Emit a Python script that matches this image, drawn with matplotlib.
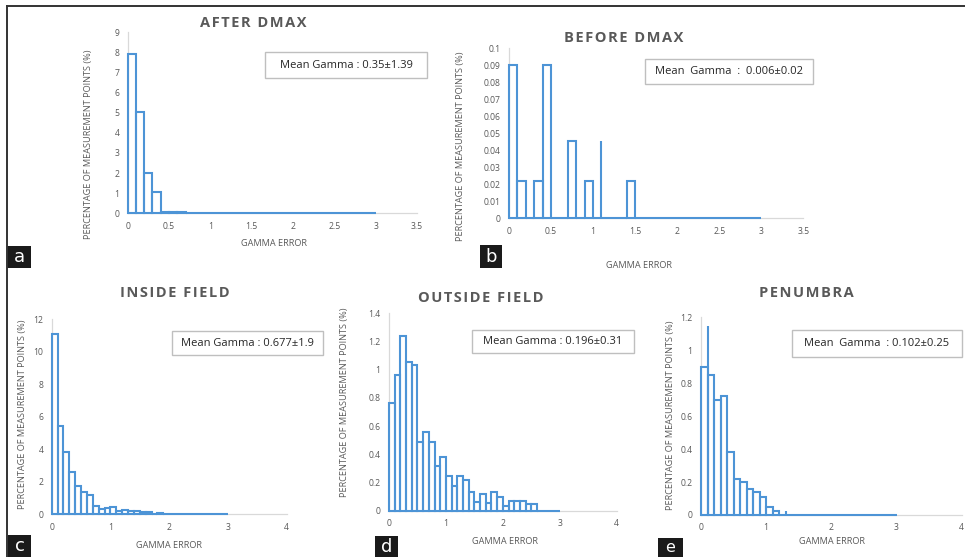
import matplotlib
matplotlib.use("Agg")
import matplotlib.pyplot as plt
from matplotlib.patches import Rectangle
from matplotlib.lines import Line2D
from matplotlib.ticker import FuncFormatter, MultipleLocator

plt.rcParams['font.family'] = ['Open Sans', 'DejaVu Sans']

W, H = 965, 557
BLUE = '#4d94d6'
GRAY_TXT = '#595959'
AXIS_GRAY = '#d9d9d9'

BIN_WIDTH = 0.1

# ---------------- data (bin heights, bins of width 0.1 starting at 0) ----------------
after_heights = [7.93, 5.02, 2.02, 1.08, 0.07, 0.07, 0.07, 0, 0, 0,
                 0, 0, 0, 0, 0, 0, 0, 0, 0, 0,
                 0, 0, 0, 0, 0, 0, 0, 0, 0, 0]
after_spikes_x = []
after_spikes_y = []

before_heights = [0.09, 0.022, 0, 0.022, 0.09, 0, 0, 0.0455, 0, 0.022,
                  0, 0, 0, 0, 0.022, 0, 0, 0, 0, 0,
                  0, 0, 0, 0, 0, 0, 0, 0, 0, 0]
before_spikes_x = [1.1]
before_spikes_y = [0.0455]

inside_heights = [11.1, 5.45, 3.8, 2.6, 1.75, 1.38, 1.18, 0.53, 0.31, 0.38,
                  0.43, 0.22, 0.27, 0.2, 0.2, 0.14, 0.14, 0, 0.06, 0,
                  0, 0, 0, 0, 0, 0, 0, 0, 0, 0]
inside_spikes_x = []
inside_spikes_y = []

outside_heights = [0.765, 0.963, 1.24, 1.058, 1.034, 0.49, 0.56, 0.49, 0.315, 0.38,
                   0.245, 0.178, 0.245, 0.215, 0.134, 0.06, 0.12, 0.055, 0.134, 0.1,
                   0.033, 0.067, 0.067, 0.067, 0.048, 0.048, 0, 0, 0, 0]
outside_spikes_x = []
outside_spikes_y = []

penumbra_heights = [0.897, 0.85, 0.70, 0.72, 0.38, 0.22, 0.20, 0.156, 0.138, 0.11,
                    0.047, 0.024, 0, 0, 0, 0, 0, 0, 0, 0,
                    0, 0, 0, 0, 0, 0, 0, 0, 0, 0]
penumbra_spikes_x = [0.1, 1.3]
penumbra_spikes_y = [1.148, 0.024]

titles = ['AFTER DMAX', 'BEFORE DMAX', 'INSIDE FIELD', 'OUTSIDE FIELD', 'PENUMBRA']
mean_texts = ['Mean Gamma : 0.35\u00b11.39', 'Mean  Gamma  :  0.006\u00b10.02',
              'Mean Gamma : 0.677\u00b11.9', 'Mean Gamma : 0.196\u00b10.31',
              'Mean  Gamma  : 0.102\u00b10.25']
panel_letters = ['a', 'b', 'c', 'd', 'e']
x_label = 'GAMMA ERROR'
y_label = 'PERCENTAGE OF MEASUREMENT POINTS (%)'

# ---------------- layout (pixel positions) ----------------
panels = [
    dict(h=after_heights, sx=after_spikes_x, sy=after_spikes_y,
         ax=(127.7, 417.0, 32.3, 213.3), xlim=3.5, xstep=0.5, ylim=9, ystep=1,
         title=(253, 23), box=(265, 52, 427, 78), ylab=(89, 144), xlab=(274, 243),
         letter=(7, 246, 31, 268)),
    dict(h=before_heights, sx=before_spikes_x, sy=before_spikes_y,
         ax=(509.0, 803.3, 48.3, 218.3), xlim=3.5, xstep=0.5, ylim=0.1, ystep=0.01,
         title=(624, 38), box=(645, 59, 813, 84), ylab=(460, 146), xlab=(639, 266),
         letter=(480, 245, 502, 268)),
    dict(h=inside_heights, sx=inside_spikes_x, sy=inside_spikes_y,
         ax=(51.7, 286.7, 319.0, 514.3), xlim=4, xstep=1, ylim=12, ystep=2,
         title=(175, 293), box=(172, 331, 323, 355), ylab=(23, 414), xlab=(169, 545),
         letter=(8, 535, 31, 557)),
    dict(h=outside_heights, sx=outside_spikes_x, sy=outside_spikes_y,
         ax=(389.0, 616.7, 313.3, 510.7), xlim=4, xstep=1, ylim=1.4, ystep=0.2,
         title=(481, 298), box=(472, 330, 634, 353), ylab=(345, 402), xlab=(505, 541),
         letter=(375, 536, 398, 557)),
    dict(h=penumbra_heights, sx=penumbra_spikes_x, sy=penumbra_spikes_y,
         ax=(701.0, 961.7, 317.3, 515.0), xlim=4, xstep=1, ylim=1.2, ystep=0.2,
         title=(806, 293), box=(792, 330, 962, 357), ylab=(670, 415), xlab=(832, 541),
         letter=(658, 538, 683, 557)),
]

fig = plt.figure(figsize=(W / 100, H / 100), dpi=100)


def fx(x):
    return x / W


def fy(y):
    return 1 - y / H


fmt = FuncFormatter(lambda v, p: ('%g' % round(v, 6)))


def spaced(s):
    return '\u200a'.join(list(s))


for i, p in enumerate(panels):
    l, r, t, b = p['ax']
    ax = fig.add_axes([fx(l), fy(b), (r - l) / W, (b - t) / H])
    n = len(p['h'])
    lefts = [k * BIN_WIDTH for k in range(n)]
    ax.bar(lefts, p['h'], width=BIN_WIDTH, align='edge', fill=False,
           edgecolor=BLUE, linewidth=1.5, clip_on=False, zorder=3)
    if p['sx']:
        ax.vlines(p['sx'], 0, p['sy'], color=BLUE, linewidth=1.5, zorder=3)
    ax.set_xlim(0, p['xlim'])
    ax.set_ylim(0, p['ylim'])
    ax.xaxis.set_major_locator(MultipleLocator(p['xstep']))
    ax.yaxis.set_major_locator(MultipleLocator(p['ystep']))
    ax.xaxis.set_major_formatter(fmt)
    ax.yaxis.set_major_formatter(fmt)
    ax.tick_params(length=0, labelsize=6.2, labelcolor=GRAY_TXT, pad=6)
    for s in ['top', 'right']:
        ax.spines[s].set_visible(False)
    for s in ['left', 'bottom']:
        ax.spines[s].set_color(AXIS_GRAY)
        ax.spines[s].set_linewidth(0.9)
    ax.patch.set_alpha(0)

    # title
    tx, ty = p['title']
    fig.text(fx(tx), fy(ty), spaced(titles[i]), ha='center', va='center', fontsize=10.5,
             fontweight='bold', color=GRAY_TXT)
    # mean gamma box
    bx0, by0, bx1, by1 = p['box']
    fig.patches.append(Rectangle((fx(bx0), fy(by1)), (bx1 - bx0) / W, (by1 - by0) / H,
                                 transform=fig.transFigure, fill=False,
                                 edgecolor='#bfbfbf', linewidth=1.0))
    fig.text(fx((bx0 + bx1) / 2), fy((by0 + by1) / 2), mean_texts[i], ha='center',
             va='center', fontsize=8.0, color='#262626')
    # axis labels
    yx, yy = p['ylab']
    fig.text(fx(yx), fy(yy), y_label, rotation=90, ha='center', va='center',
             fontsize=6.6, color=GRAY_TXT)
    xx, xy = p['xlab']
    fig.text(fx(xx), fy(xy), x_label, ha='center', va='center', fontsize=6.6,
             color=GRAY_TXT)
    # letter box
    lx0, ly0, lx1, ly1 = p['letter']
    fig.patches.append(Rectangle((fx(lx0), fy(ly1)), (lx1 - lx0) / W, (ly1 - ly0) / H,
                                 transform=fig.transFigure, facecolor='#1a1a1a',
                                 edgecolor='none'))
    fig.text(fx((lx0 + lx1) / 2), fy((ly0 + ly1) / 2), panel_letters[i], ha='center',
             va='center', fontsize=13 if i != 4 else 11.5, color='white',
             family=['DejaVu Sans'])

# outer frame (top and left)
fig.lines.append(Line2D([fx(7), fx(W)], [fy(6), fy(6)], transform=fig.transFigure,
                        color='#333333', linewidth=1.4))
fig.lines.append(Line2D([fx(7), fx(7)], [fy(6), fy(H)], transform=fig.transFigure,
                        color='#333333', linewidth=1.4))

fig.savefig('out.png', dpi=100)
